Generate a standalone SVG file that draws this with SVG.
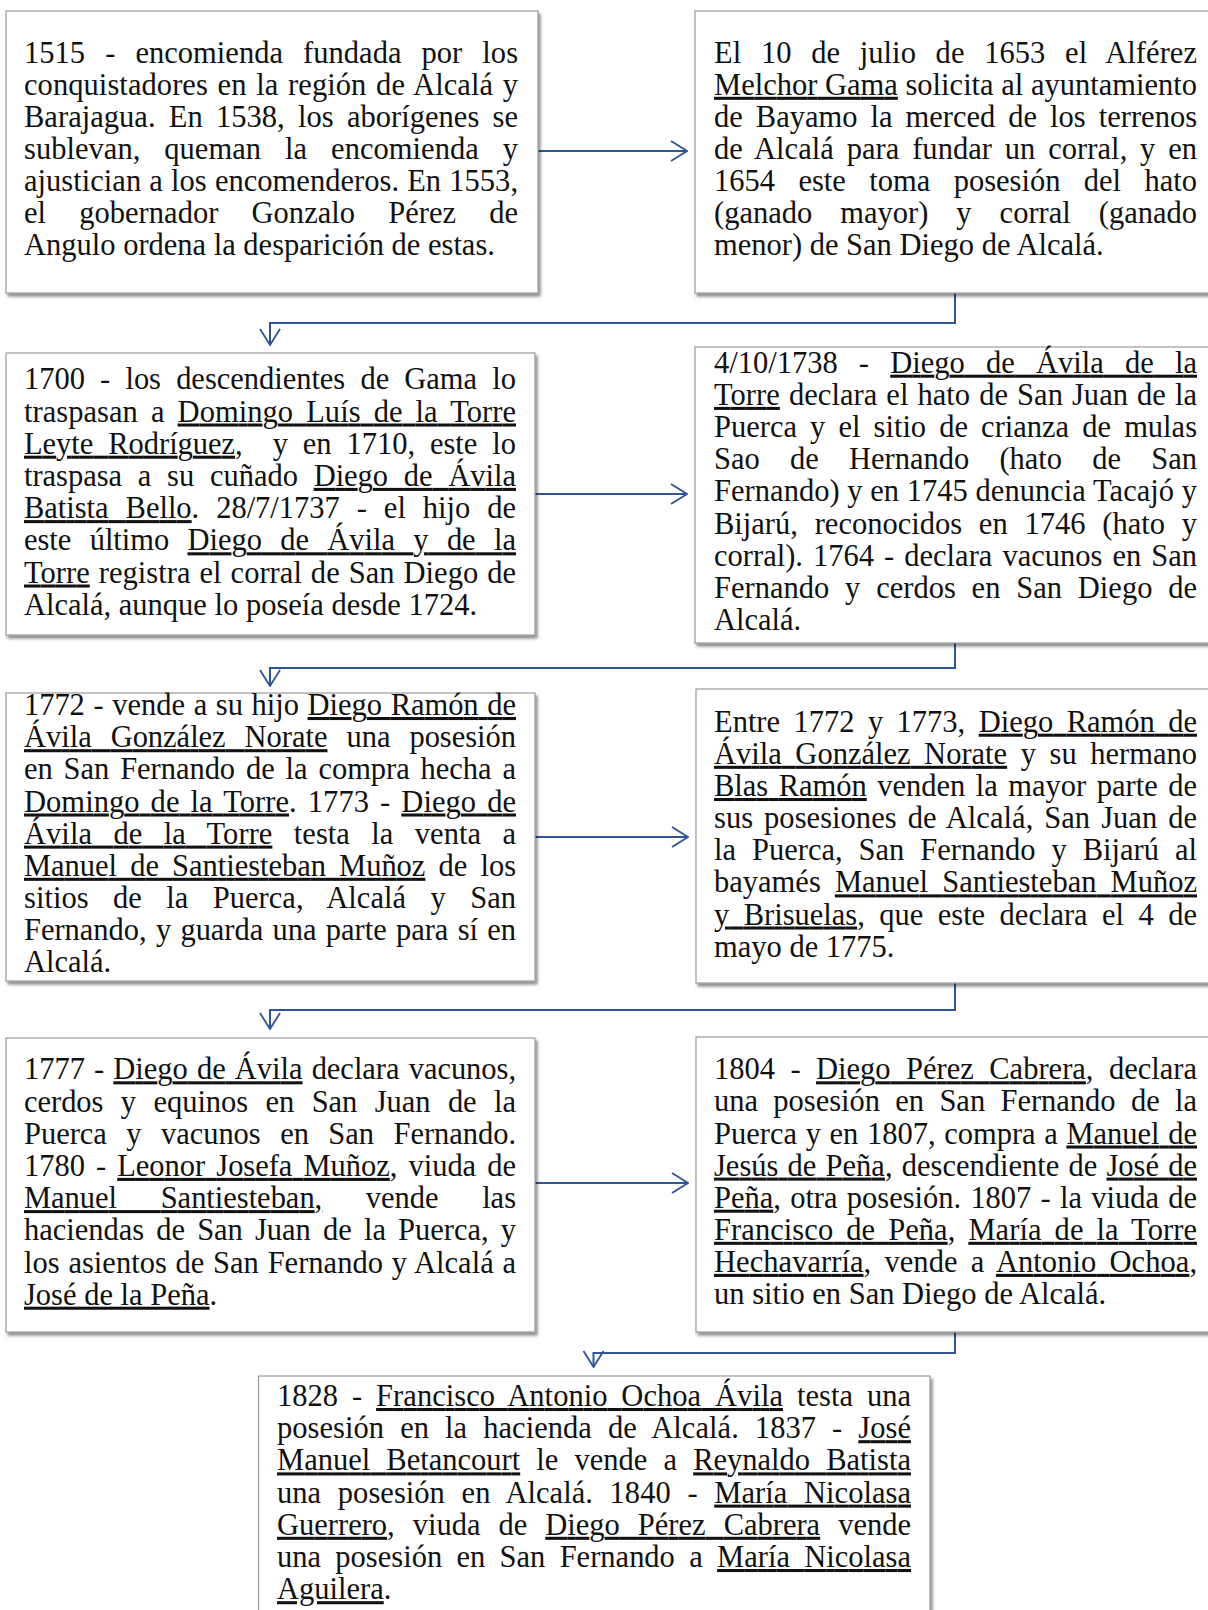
<svg xmlns="http://www.w3.org/2000/svg" width="1208" height="1610" viewBox="0 0 1208 1610">
<defs>
<style>
.box{fill:#fff;stroke:#9a9a9a;stroke-width:1.2;filter:url(#sh);}
.t{font-family:"Liberation Serif","Times New Roman",serif;font-size:30.5px;fill:#111;}
.u{text-decoration:underline;}
.c{fill:none;stroke:#2F5597;stroke-width:2;}
</style>
<filter id="sh" x="-5%" y="-5%" width="110%" height="115%">
<feDropShadow dx="2" dy="3" stdDeviation="1.8" flood-color="#000" flood-opacity="0.45"/>
</filter>
<marker id="ah" viewBox="0 0 18 22" markerWidth="18" markerHeight="22" refX="17" refY="11" orient="auto" markerUnits="userSpaceOnUse">
<path d="M1,1 L17,11 L1,21" fill="none" stroke="#2F5597" stroke-width="1.8"/>
</marker>
</defs>
<rect width="1208" height="1610" fill="#fff"/>

<g id="connectors">
<path class="c" d="M538,151 H687" marker-end="url(#ah)"/>
<path class="c" d="M955,293 V323 H270 V345" marker-end="url(#ah)"/>
<path class="c" d="M535,494 H687" marker-end="url(#ah)"/>
<path class="c" d="M955,643 V668 H270 V686" marker-end="url(#ah)"/>
<path class="c" d="M535,837 H688" marker-end="url(#ah)"/>
<path class="c" d="M955,983 V1010 H270 V1029" marker-end="url(#ah)"/>
<path class="c" d="M535,1183 H688" marker-end="url(#ah)"/>
<path class="c" d="M955,1332 V1353 H593.5 V1367" marker-end="url(#ah)"/>
</g>

<g id="node1">
<rect class="box" x="6" y="11" width="532" height="282"/>
<text class="t" x="24" y="62.7" textLength="494" lengthAdjust="spacing" style="word-spacing:12.4px">1515 - encomienda fundada por los</text>
<text class="t" x="24" y="94.8" textLength="494" lengthAdjust="spacing" style="word-spacing:2px">conquistadores en la región de Alcalá y</text>
<text class="t" x="24" y="126.8" textLength="494" lengthAdjust="spacing" style="word-spacing:5.6px">Barajagua. En 1538, los aborígenes se</text>
<text class="t" x="24" y="158.9" textLength="494" lengthAdjust="spacing" style="word-spacing:16.3px">sublevan, queman la encomienda y</text>
<text class="t" x="24" y="190.9" textLength="494" lengthAdjust="spacing" style="word-spacing:0.5px">ajustician a los encomenderos. En 1553,</text>
<text class="t" x="24" y="223" textLength="494" lengthAdjust="spacing" style="word-spacing:25.4px">el gobernador Gonzalo Pérez de</text>
<text class="t" x="24" y="255">Angulo ordena la desparición de estas.</text>
</g>

<g id="node2">
<rect class="box" x="695" y="11" width="520" height="282"/>
<text class="t" x="714" y="62.7" textLength="483" lengthAdjust="spacing" style="word-spacing:12px">El 10 de julio de 1653 el Alférez</text>
<text class="t" x="714" y="94.8" textLength="483" lengthAdjust="spacing"><tspan class="u">Melchor Gama</tspan> solicita al ayuntamiento</text>
<text class="t" x="714" y="126.8" textLength="483" lengthAdjust="spacing" style="word-spacing:5.4px">de Bayamo la merced de los terrenos</text>
<text class="t" x="714" y="158.9" textLength="483" lengthAdjust="spacing" style="word-spacing:5.1px">de Alcalá para fundar un corral, y en</text>
<text class="t" x="714" y="190.9" textLength="483" lengthAdjust="spacing" style="word-spacing:15.8px">1654 este toma posesión del hato</text>
<text class="t" x="714" y="223" textLength="483" lengthAdjust="spacing" style="word-spacing:20.4px">(ganado mayor) y corral (ganado</text>
<text class="t" x="714" y="255">menor) de San Diego de Alcalá.</text>
</g>

<g id="node3">
<rect class="box" x="6" y="353" width="529" height="282"/>
<text class="t" x="24" y="389.3" textLength="492" lengthAdjust="spacing" style="word-spacing:7.6px">1700 - los descendientes de Gama lo</text>
<text class="t" x="24" y="421.5" textLength="492" lengthAdjust="spacing" style="word-spacing:5.4px">traspasan a <tspan class="u">Domingo Luís de la Torre</tspan></text>
<text class="t" x="24" y="453.7" textLength="492" lengthAdjust="spacing" style="word-spacing:7.4px"><tspan class="u">Leyte Rodríguez,</tspan>&#160; y en 1710, este lo</text>
<text class="t" x="24" y="485.9" textLength="492" lengthAdjust="spacing" style="word-spacing:8.2px">traspasa a su cuñado <tspan class="u">Diego de Ávila</tspan></text>
<text class="t" x="24" y="518.1" textLength="492" lengthAdjust="spacing" style="word-spacing:9.4px"><tspan class="u">Batista Bello</tspan>. 28/7/1737 - el hijo de</text>
<text class="t" x="24" y="550.3" textLength="492" lengthAdjust="spacing" style="word-spacing:10.8px">este último <tspan class="u">Diego de Ávila y de la</tspan></text>
<text class="t" x="24" y="582.5" textLength="492" lengthAdjust="spacing" style="word-spacing:1.3px"><tspan class="u">Torre</tspan> registra el corral de San Diego de</text>
<text class="t" x="24" y="614.7">Alcalá, aunque lo poseía desde 1724.</text>
</g>

<g id="node4">
<rect class="box" x="695" y="347" width="520" height="296"/>
<text class="t" x="714" y="372.7" textLength="483" lengthAdjust="spacing" style="word-spacing:13.6px">4/10/1738 - <tspan class="u">Diego de Ávila de la</tspan></text>
<text class="t" x="714" y="404.9" textLength="483" lengthAdjust="spacing" style="word-spacing:1.3px"><tspan class="u">Torre</tspan> declara el hato de San Juan de la</text>
<text class="t" x="714" y="437" textLength="483" lengthAdjust="spacing" style="word-spacing:5.5px">Puerca y el sitio de crianza de mulas</text>
<text class="t" x="714" y="469.2" textLength="483" lengthAdjust="spacing" style="word-spacing:22.6px">Sao de Hernando (hato de San</text>
<text class="t" x="714" y="501.3" textLength="483" lengthAdjust="spacing">Fernando) y en 1745 denuncia Tacajó y</text>
<text class="t" x="714" y="533.5" textLength="483" lengthAdjust="spacing" style="word-spacing:9.2px">Bijarú, reconocidos en 1746 (hato y</text>
<text class="t" x="714" y="565.6" textLength="483" lengthAdjust="spacing" style="word-spacing:2.4px">corral). 1764 - declara vacunos en San</text>
<text class="t" x="714" y="597.8" textLength="483" lengthAdjust="spacing" style="word-spacing:8.2px">Fernando y cerdos en San Diego de</text>
<text class="t" x="714" y="629.9">Alcalá.</text>
</g>

<g id="node5">
<rect class="box" x="6" y="693" width="529" height="288"/>
<text class="t" x="24" y="715" textLength="492" lengthAdjust="spacing" style="word-spacing:1.1px">1772 - vende a su hijo <tspan class="u">Diego Ramón de</tspan></text>
<text class="t" x="24" y="747.2" textLength="492" lengthAdjust="spacing" style="word-spacing:11.4px"><tspan class="u">Ávila González Norate</tspan> una posesión</text>
<text class="t" x="24" y="779.3" textLength="492" lengthAdjust="spacing" style="word-spacing:3.3px">en San Fernando de la compra hecha a</text>
<text class="t" x="24" y="811.5" textLength="492" lengthAdjust="spacing" style="word-spacing:3.4px"><tspan class="u">Domingo de la Torre</tspan>. 1773 - <tspan class="u">Diego de</tspan></text>
<text class="t" x="24" y="843.6" textLength="492" lengthAdjust="spacing" style="word-spacing:13.7px"><tspan class="u">Ávila de la Torre</tspan> testa la venta a</text>
<text class="t" x="24" y="875.8" textLength="492" lengthAdjust="spacing" style="word-spacing:5.6px"><tspan class="u">Manuel de Santiesteban Muñoz</tspan> de los</text>
<text class="t" x="24" y="908" textLength="492" lengthAdjust="spacing" style="word-spacing:16.8px">sitios de la Puerca, Alcalá y San</text>
<text class="t" x="24" y="940.1" textLength="492" lengthAdjust="spacing" style="word-spacing:1.7px">Fernando, y guarda una parte para sí en</text>
<text class="t" x="24" y="972.3">Alcalá.</text>
</g>

<g id="node6">
<rect class="box" x="696" y="689" width="520" height="294"/>
<text class="t" x="714" y="731.7" textLength="483" lengthAdjust="spacing" style="word-spacing:5.8px">Entre 1772 y 1773, <tspan class="u">Diego Ramón de</tspan></text>
<text class="t" x="714" y="763.8" textLength="483" lengthAdjust="spacing" style="word-spacing:6px"><tspan class="u">Ávila González Norate</tspan> y su hermano</text>
<text class="t" x="714" y="796" textLength="483" lengthAdjust="spacing" style="word-spacing:2.9px"><tspan class="u">Blas Ramón</tspan> venden la mayor parte de</text>
<text class="t" x="714" y="828.1" textLength="483" lengthAdjust="spacing" style="word-spacing:3.3px">sus posesiones de Alcalá, San Juan de</text>
<text class="t" x="714" y="860.3" textLength="483" lengthAdjust="spacing" style="word-spacing:8.4px">la Puerca, San Fernando y Bijarú al</text>
<text class="t" x="714" y="892.4" textLength="483" lengthAdjust="spacing" style="word-spacing:6.5px">bayamés <tspan class="u">Manuel Santiesteban Muñoz</tspan></text>
<text class="t" x="714" y="924.5" textLength="483" lengthAdjust="spacing" style="word-spacing:6.8px"><tspan class="u">y Brisuelas</tspan>, que este declara el 4 de</text>
<text class="t" x="714" y="956.7">mayo de 1775.</text>
</g>

<g id="node7">
<rect class="box" x="6" y="1038" width="529" height="294"/>
<text class="t" x="24" y="1079.3" textLength="492" lengthAdjust="spacing" style="word-spacing:1.6px">1777 - <tspan class="u">Diego de Ávila</tspan> declara vacunos,</text>
<text class="t" x="24" y="1111.5" textLength="492" lengthAdjust="spacing" style="word-spacing:9.8px">cerdos y equinos en San Juan de la</text>
<text class="t" x="24" y="1143.7" textLength="492" lengthAdjust="spacing" style="word-spacing:11.9px">Puerca y vacunos en San Fernando.</text>
<text class="t" x="24" y="1175.9" textLength="492" lengthAdjust="spacing" style="word-spacing:3.5px">1780 - <tspan class="u">Leonor Josefa Muñoz,</tspan> viuda de</text>
<text class="t" x="24" y="1208.1" textLength="492" lengthAdjust="spacing" style="word-spacing:36px"><tspan class="u">Manuel Santiesteban,</tspan> vende las</text>
<text class="t" x="24" y="1240.3" textLength="492" lengthAdjust="spacing" style="word-spacing:4.6px">haciendas de San Juan de la Puerca, y</text>
<text class="t" x="24" y="1272.5" textLength="492" lengthAdjust="spacing" style="word-spacing:1.1px">los asientos de San Fernando y Alcalá a</text>
<text class="t" x="24" y="1304.7"><tspan class="u">José de la Peña</tspan>.</text>
</g>

<g id="node8">
<rect class="box" x="696" y="1037" width="520" height="295"/>
<text class="t" x="714" y="1079.3" textLength="483" lengthAdjust="spacing" style="word-spacing:7.8px">1804 - <tspan class="u">Diego Pérez Cabrera</tspan>, declara</text>
<text class="t" x="714" y="1111.4" textLength="483" lengthAdjust="spacing" style="word-spacing:7.7px">una posesión en San Fernando de la</text>
<text class="t" x="714" y="1143.5" textLength="483" lengthAdjust="spacing" style="word-spacing:1px">Puerca y en 1807, compra a <tspan class="u">Manuel de</tspan></text>
<text class="t" x="714" y="1175.6" textLength="483" lengthAdjust="spacing" style="word-spacing:1.6px"><tspan class="u">Jesús de Peña</tspan>, descendiente de <tspan class="u">José de</tspan></text>
<text class="t" x="714" y="1207.7" textLength="483" lengthAdjust="spacing" style="word-spacing:1.6px"><tspan class="u">Peña</tspan>, otra posesión. 1807 - la viuda de</text>
<text class="t" x="714" y="1239.8" textLength="483" lengthAdjust="spacing" style="word-spacing:5.3px"><tspan class="u">Francisco de Peña</tspan>, <tspan class="u">María de la Torre</tspan></text>
<text class="t" x="714" y="1271.9" textLength="483" lengthAdjust="spacing" style="word-spacing:5.6px"><tspan class="u">Hechavarría</tspan>, vende a <tspan class="u">Antonio Ochoa</tspan>,</text>
<text class="t" x="714" y="1304">un sitio en San Diego de Alcalá.</text>
</g>

<g id="node9">
<rect class="box" x="258.5" y="1376" width="671.5" height="260"/>
<text class="t" x="277" y="1406" textLength="634" lengthAdjust="spacing" style="word-spacing:6.2px">1828 - <tspan class="u">Francisco Antonio Ochoa Ávila</tspan> testa una</text>
<text class="t" x="277" y="1438.2" textLength="634" lengthAdjust="spacing" style="word-spacing:8.4px">posesión en la hacienda de Alcalá. 1837 - <tspan class="u">José</tspan></text>
<text class="t" x="277" y="1470.4" textLength="634" lengthAdjust="spacing" style="word-spacing:8.5px"><tspan class="u">Manuel Betancourt</tspan> le vende a <tspan class="u">Reynaldo Batista</tspan></text>
<text class="t" x="277" y="1502.6" textLength="634" lengthAdjust="spacing" style="word-spacing:9px">una posesión en Alcalá. 1840 - <tspan class="u">María Nicolasa</tspan></text>
<text class="t" x="277" y="1534.8" textLength="634" lengthAdjust="spacing" style="word-spacing:10.4px"><tspan class="u">Guerrero</tspan>, viuda de <tspan class="u">Diego Pérez Cabrera</tspan> vende</text>
<text class="t" x="277" y="1567" textLength="634" lengthAdjust="spacing" style="word-spacing:6.7px">una posesión en San Fernando a <tspan class="u">María Nicolasa</tspan></text>
<text class="t" x="277" y="1599.2"><tspan class="u">Aguilera</tspan>.</text>
</g>
</svg>
